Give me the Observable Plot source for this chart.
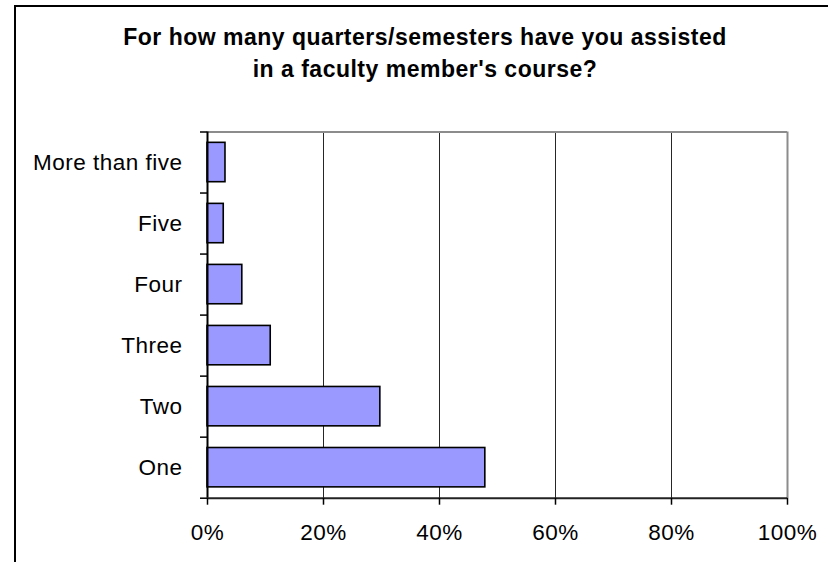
<!DOCTYPE html>
<html>
<head>
<meta charset="utf-8">
<script src="https://cdn.jsdelivr.net/npm/d3@7"></script>
<script src="https://cdn.jsdelivr.net/npm/@observablehq/plot@0.6"></script>
<style>
  html, body { margin: 0; padding: 0; background: #fff; overflow: hidden; }
  #wrap { position: relative; width: 828px; height: 562px; overflow: hidden; font-family: "Liberation Sans", Arial, sans-serif; }
  #frame { position: absolute; left: 14px; top: 5px; width: 900px; height: 700px; border-left: 2px solid #000; border-top: 2px solid #000; }
  #title { position: absolute; left: 0; top: 21px; width: 850px; text-align: center; font-weight: bold; font-size: 23px; letter-spacing: 0.5px; line-height: 32px; color: #000; }
  #chart { position: absolute; left: 0; top: 0; }
</style>
</head>
<body>
<div id="wrap">
  <div id="frame"></div>
  <div id="title">For how many quarters/semesters have you assisted<br>in a faculty member's course?</div>
  <div id="chart"></div>
</div>
<script>
const categories = ["One", "Two", "Three", "Four", "Five", "More than five"];
const shares = [0.479, 0.298, 0.109, 0.06, 0.028, 0.031];
const xTicks = [0, 0.2, 0.4, 0.6, 0.8, 1.0];

const gap = 0.355;
const data = categories.map((c, i) => ({cat: c, v: shares[i], y1: i + gap / 2, y2: i + 1 - gap / 2, yc: i + 0.5}));
const bounds = d3.range(categories.length + 1);

const fontFam = '"Liberation Sans", Arial, sans-serif';

const plot = Plot.plot({
  width: 828,
  height: 562,
  marginTop: 131.5,
  marginBottom: 64.3,
  marginLeft: 207,
  marginRight: 41,
  style: {background: "transparent", fontFamily: fontFam, fontSize: "22.5px", color: "#000", overflow: "visible", letterSpacing: "0.5px"},
  x: {domain: [0, 1]},
  y: {domain: [0, categories.length]},
  marks: [
    Plot.ruleX(xTicks.filter(d => d > 0 && d < 1), {stroke: "#000", strokeWidth: 1, strokeOpacity: 0.85}),
    Plot.ruleY([categories.length], {stroke: "#8c8c8c", strokeWidth: 2}),
    Plot.ruleX([1], {stroke: "#8c8c8c", strokeWidth: 2}),
    Plot.rectX(data, {x1: 0, x2: "v", y1: "y1", y2: "y2", fill: "#9999ff", stroke: "#000", strokeWidth: 1.6}),
    Plot.ruleX([0], {stroke: "#000", strokeWidth: 2}),
    Plot.ruleY([0], {stroke: "#222", strokeWidth: 2}),
    Plot.axisY({ticks: bounds, tickFormat: () => "", tickSize: 7, stroke: "#000", strokeWidth: 1.5, label: null}),
    Plot.text(data, {x: 0, y: "yc", text: "cat", textAnchor: "end", dx: -25, fontSize: 22.5, fill: "#000"}),
    Plot.axisX({ticks: xTicks, tickFormat: d3.format(".0%"), tickSize: 7, tickPadding: 19, stroke: "#000", strokeWidth: 1.5, fontSize: 22.5, fill: "#000", label: null})
  ]
});
document.getElementById("chart").appendChild(plot);
</script>
</body>
</html>
